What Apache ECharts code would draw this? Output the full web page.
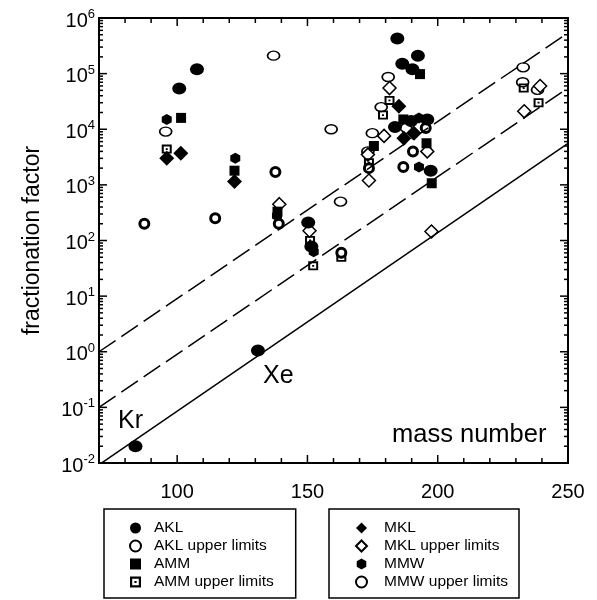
<!DOCTYPE html>
<html>
<head>
<meta charset="utf-8">
<script src="https://cdn.jsdelivr.net/npm/echarts@6.0.0/dist/echarts.min.js"></script>
<style>
html, body { margin: 0; padding: 0; background: #fff; }
#wrap { position: relative; width: 597px; height: 600px; }
#chart { width: 597px; height: 600px; }
#ticks { position: absolute; left: 0; top: 0; pointer-events: none; }
#dbg { position: absolute; left: 530px; top: 520px; width: 67px; font: 8px monospace; color: #c00; white-space: pre-wrap; }
</style>
</head>
<body>
<div id="wrap">
<div id="chart"></div>
<canvas id="ticks" width="597" height="600"></canvas>
<div id="dbg"></div>
</div>
<script>
// mass number vs fractionation factor
const akl = [[84, 0.02], [131, 1.05], [100.8, 5.4e4], [107.6, 1.2e5], [184.5, 4.3e5], [186.4, 1.5e5],
    [190.3, 1.2e5], [192.4, 2.1e5], [183.6, 1.1e4], [189.8, 1.4e4], [196, 1.5e4], [197.3, 1.8e3],
    [150.3, 210], [151.5, 78]]
const aklUpper = [[95.6, 9.1e3], [137, 2.1e5], [159.1, 1.0e4], [162.7, 500], [181, 8.7e4], [178.3, 2.5e4],
    [174.9, 8.5e3], [173.2, 4.0e3], [232.8, 1.3e5], [232.6, 7.0e4], [238.3, 5.1e4]]
const amm = [[101.5, 1.6e4], [122, 1.8e3], [138.5, 330], [175.5, 5.0e3], [186.8, 1.5e4], [193.2, 9.8e4],
    [195.7, 5.6e3], [197.7, 1.07e3]]
const ammUpper = [[96, 4.4e3], [151, 100], [152.2, 35], [163, 50], [181.5, 3.3e4], [179, 1.8e4],
    [173.6, 2.5e3], [233, 5.5e4], [238.7, 3.0e4]]
const mkl = [[96, 3.0e3], [101.4, 3.7e3], [122, 1.15e3], [185.1, 2.6e4], [187, 6.9e3], [190.9, 8.5e3]]
const mklUpper = [[139.2, 450], [150.8, 150], [181.5, 5.5e4], [187.7, 1.05e4], [179.4, 7.6e3], [173.2, 3.5e3],
    [173.6, 1.2e3], [196, 4.0e3], [197.6, 145], [239.3, 6.0e4], [233.2, 2.1e4]]
const mmw = [[96, 1.5e4], [122.3, 3.0e3], [138.3, 280], [152.4, 63], [192.8, 1.6e4], [192.8, 2.1e3]]
const mmwUpper = [[87.4, 200], [114.6, 250], [137.7, 1.7e3], [139, 200], [163, 60], [195.4, 1.05e4],
    [190.5, 4.0e3], [173.6, 2.0e3], [186.8, 2.1e3]]

// reference lines (end points at the frame edges)
const upperDashed = [[70, 1], [250, 5.4e5]]
const lowerDashed = [[70, 0.1], [250, 5.5e4]]
const solidLine = [[70, 0.0093], [250, 5.6e3]]

// ticks
const xLabels = [100, 150, 200, 250]
const xTicks = [80, 90, 100, 110, 120, 130, 140, 150, 160, 170, 180, 190, 200, 210, 220, 230, 240]
const yLabels = [1e-2, 1e-1, 1, 10, 100, 1e3, 1e4, 1e5, 1e6]
const yTicks = []
for (let e = -2; e < 6; e++) {
    for (let k = 1; k <= 9; k++) yTicks.push(k * Math.pow(10, e))
}

const font = 'Liberation Sans, Arial, Helvetica, sans-serif'
const ellipse = 'path://M-1,0 A1,1 0 1,0 1,0 A1,1 0 1,0 -1,0 Z'
const hexagon = 'path://M0,-1 L0.87,-0.5 L0.87,0.5 L0,1 L-0.87,0.5 L-0.87,-0.5 Z'
// square with a hole and a dot in the middle
const dottedSquare = 'path://M0,0 L10,0 L10,10 L0,10 Z M2,2 L2,8 L8,8 L8,2 Z M4,4 L6,4 L6,6 L4,6 Z'

function scatter (name, data, symbol, size, open, bw) {
    return {
        name: name, type: 'scatter', data: data, symbol: symbol, symbolSize: size,
        itemStyle: open ? {color: '#fff', borderColor: '#000', borderWidth: bw, opacity: 1}
            : {color: '#000', borderWidth: 0, opacity: 1}
    }
}

function refLine (data, dash) {
    return {
        type: 'line', data: data, symbol: 'none', silent: true, clip: true,
        lineStyle: {color: '#000', width: 1.5, type: dash}
    }
}

const legendBase = {
    orient: 'vertical', top: 509, itemWidth: 11, itemHeight: 11, itemGap: 0,
    borderColor: '#000', borderWidth: 1.5, borderRadius: 0, selectedMode: false,
    inactiveColor: '#000'
}

const chart = echarts.init(document.getElementById('chart'))
chart.setOption({
    animation: false,
    grid: {left: 99, right: 29, top: 18, bottom: 137, show: true, borderColor: '#000', borderWidth: 2, backgroundColor: 'transparent'},
    xAxis: {
        type: 'value', min: 70, max: 250, interval: 10,
        axisLine: {show: false},
        axisTick: {show: false},
        axisLabel: {customValues: xLabels, color: '#000', fontSize: 20, fontFamily: font, margin: 19},
        splitLine: {show: false}
    },
    yAxis: {
        type: 'log', min: 0.01, max: 1e6,
        axisLine: {show: false},
        axisTick: {show: false},
        splitLine: {show: false},
        axisLabel: {
            customValues: yLabels,
            margin: 4,
            formatter: v => '{b|10}{s|' + Math.round(Math.log10(v)) + '}',
            rich: {
                b: {fontSize: 20, lineHeight: 20, fontFamily: font, color: '#000', padding: [6, 0, 0, 0]},
                s: {fontSize: 13, lineHeight: 14, fontFamily: font, color: '#000', verticalAlign: 'top'}
            }
        },
        name: 'fractionation factor',
        nameLocation: 'middle',
        nameGap: 55,
        nameTextStyle: {fontSize: 23, fontFamily: font, color: '#000'}
    },
    legend: [
        Object.assign({}, legendBase, {
            left: 104, padding: [10, 22, 7, 25],
            data: ['AKL', 'AKL upper limits', 'AMM', 'AMM upper limits'],
            textStyle: {fontSize: 15.5, lineHeight: 18, fontFamily: font, color: '#000', padding: [0, 0, 0, 8]}
        }),
        Object.assign({}, legendBase, {
            left: 329, padding: [10, 11, 7, 26],
            data: ['MKL', 'MKL upper limits', 'MMW', 'MMW upper limits'],
            textStyle: {fontSize: 15.5, lineHeight: 18, fontFamily: font, color: '#000', padding: [0, 0, 0, 12]}
        })
    ],
    graphic: [
        {type: 'text', x: 118, y: 421, style: {text: 'Kr', fontSize: 25, fontFamily: font, fill: '#000', verticalAlign: 'middle'}},
        {type: 'text', x: 263, y: 376, style: {text: 'Xe', fontSize: 25, fontFamily: font, fill: '#000', verticalAlign: 'middle'}},
        {type: 'text', x: 392, y: 435, style: {text: 'mass number', fontSize: 25.5, fontFamily: font, fill: '#000', verticalAlign: 'middle'}}
    ],
    series: [
        refLine(upperDashed, [20, 7]),
        refLine(lowerDashed, [20, 7]),
        refLine(solidLine, 'solid'),
        scatter('AKL upper limits', aklUpper, ellipse, [12, 9], true, 1.5),
        scatter('MKL upper limits', mklUpper, 'diamond', 13, true, 1.5),
        scatter('AMM upper limits', ammUpper, dottedSquare, [10, 9], false),
        scatter('MMW upper limits', mmwUpper, 'circle', 9, true, 3),
        scatter('AKL', akl, ellipse, [14, 12], false),
        scatter('AMM', amm, 'rect', 10, false),
        scatter('MKL', mkl, 'diamond', 15, false),
        scatter('MMW', mmw, hexagon, [10, 11], false)
    ]
})

// inside ticks on all four sides, positioned with the chart's own scales
const finder = {xAxisIndex: 0, yAxisIndex: 0}
const ctx = document.getElementById('ticks').getContext('2d')
ctx.strokeStyle = '#000'
ctx.lineWidth = 1.5
function seg (x1, y1, x2, y2) {
    if (![x1, y1, x2, y2].every(Number.isFinite)) {
        document.getElementById('dbg').textContent = 'nan ' + [x1, y1].join(',')
        return
    }
    ctx.beginPath()
    ctx.moveTo(x1, y1)
    ctx.lineTo(x2, y2)
    ctx.stroke()
}
xTicks.forEach(v => {
    const len = v % 50 === 0 ? 8 : 5
    const b = chart.convertToPixel(finder, [v, 0.01]) || [NaN, NaN]
    const t = chart.convertToPixel(finder, [v, 1e6]) || [NaN, NaN]
    seg(b[0], b[1], b[0], b[1] - len)
    seg(t[0], t[1], t[0], t[1] + len)
})
yTicks.forEach(v => {
    const lg = Math.log10(v)
    const len = Math.abs(lg - Math.round(lg)) < 1e-6 ? 8 : 4
    const l = chart.convertToPixel(finder, [70, v]) || [NaN, NaN]
    const r = chart.convertToPixel(finder, [250, v]) || [NaN, NaN]
    seg(l[0], l[1], l[0] + len, l[1])
    seg(r[0], r[1], r[0] - len, r[1])
})
</script>
</body>
</html>
